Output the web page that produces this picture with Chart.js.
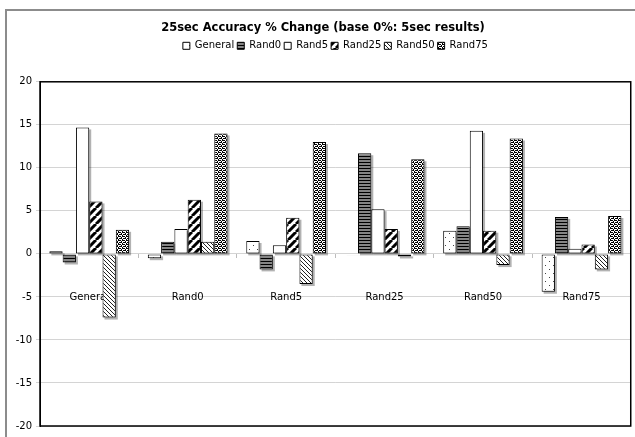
<!DOCTYPE html>
<html>
<head>
<meta charset="utf-8">
<script src="https://cdn.jsdelivr.net/npm/chart.js@4/dist/chart.umd.min.js"></script>
<style>
  html, body { margin: 0; padding: 0; background: #fff; }
  #c { display: block; }
</style>
</head>
<body>
<canvas id="c" width="635" height="437"></canvas>
<script>
// Groups along the x axis and the six compared series
const categories = ['General', 'Rand0', 'Rand5', 'Rand25', 'Rand50', 'Rand75'];
const seriesNames = ['General', 'Rand0', 'Rand5', 'Rand25', 'Rand50', 'Rand75'];

// % change of 25sec accuracy against the 5sec results, one value per group
const generalValues = [0.3, -0.5, 1.5, 0.05, 2.7, -4.4];
const rand0Values   = [-1.0, 1.4, -1.8, 11.7, 3.2, 4.3];
const rand5Values   = [14.7, 2.9, 1.0, 5.2, 14.3, 0.6];
const rand25Values  = [6.1, 6.3, 4.2, 2.9, 2.7, 1.1];
const rand50Values  = [-7.4, 1.4, -3.5, -0.3, -1.3, -1.8];
const rand75Values  = [2.8, 14.0, 13.0, 11.0, 13.4, 4.4];

const yTicks = [-20, -15, -10, -5, 0, 5, 10, 15, 20];

const FONT = 'DejaVu Sans, Verdana, sans-serif';
const canvas = document.getElementById('c');
const ctx0 = canvas.getContext('2d');

// Small repeating tiles used as monochrome fill patterns
function tile(w, h, paint) {
  const t = document.createElement('canvas');
  t.width = w; t.height = h;
  const g = t.getContext('2d');
  g.fillStyle = '#fff';
  g.fillRect(0, 0, w, h);
  paint(g);
  return ctx0.createPattern(t, 'repeat');
}
function dots(g, color, pts) {
  g.fillStyle = color;
  pts.forEach(([x, y]) => g.fillRect(x, y, 1, 1));
}

const fills = [
  // sparse dots
  tile(8, 8, g => dots(g, '#444', [[1, 1], [5, 5]])),
  // narrow horizontal lines
  tile(2, 3, g => { g.fillStyle = '#858585'; g.fillRect(0, 0, 2, 3); g.fillStyle = '#000'; g.fillRect(0, 0, 2, 1); }),
  // plain
  '#ffffff',
  // wide upward diagonal
  tile(8, 8, g => {
    g.strokeStyle = '#000'; g.lineWidth = 3; g.beginPath();
    for (const o of [-8, 0, 8]) { g.moveTo(o, 8); g.lineTo(o + 8, 0); }
    g.stroke();
  }),
  // light downward diagonal
  tile(4, 4, g => dots(g, '#222', [[0, 0], [1, 1], [2, 2], [3, 3]])),
  // confetti dots
  tile(4, 4, g => dots(g, '#000', [[0, 0], [2, 0], [3, 0], [1, 1], [0, 2], [1, 2], [3, 2], [2, 3]]))
];

const seriesValues = [generalValues, rand0Values, rand5Values, rand25Values, rand50Values, rand75Values];

// Grey outer frame, soft drop shadows behind the bars, and the plot-area box
const chartDecor = {
  id: 'chartDecor',
  beforeDraw(chart) {
    const c = chart.ctx;
    c.save();
    c.fillStyle = '#fff';
    c.fillRect(0, 0, chart.width, chart.height);
    c.strokeStyle = '#8c8c8c';
    c.lineWidth = 2;
    c.beginPath();
    c.moveTo(6, chart.height);
    c.lineTo(6, 10);
    c.lineTo(chart.width, 10);
    c.stroke();
    c.restore();
  },
  beforeDatasetsDraw(chart) {
    const c = chart.ctx;
    c.save();
    c.fillStyle = 'rgba(0,0,0,0.3)';
    chart.data.datasets.forEach((ds, i) => {
      chart.getDatasetMeta(i).data.forEach(bar => {
        const p = bar.getProps(['x', 'y', 'base', 'width'], true);
        const top = Math.min(p.y, p.base);
        const h = Math.abs(p.base - p.y);
        c.fillRect(p.x - p.width / 2 + 2, top + 2, p.width, h);
      });
    });
    c.restore();
  },
  afterDatasetsDraw(chart) {
    const a = chart.chartArea;
    const c = chart.ctx;
    c.save();
    c.strokeStyle = '#000';
    c.lineWidth = 1.5;
    c.strokeRect(a.left, a.top, a.right - a.left, a.bottom - a.top);
    c.restore();
  }
};

new Chart(canvas, {
  type: 'bar',
  data: {
    labels: categories,
    datasets: seriesNames.map((name, i) => ({
      label: name,
      data: seriesValues[i],
      backgroundColor: fills[i],
      borderColor: '#000',
      borderWidth: 1,
      borderSkipped: false,
      categoryPercentage: 0.81,
      barPercentage: 1.0,
      xAxisID: 'x',
      yAxisID: 'y'
    }))
  },
  options: {
    responsive: false,
    animation: false,
    devicePixelRatio: 1,
    layout: { padding: { left: 13, right: 2, top: 0, bottom: 11 } },
    plugins: {
      title: {
        display: true,
        text: '25sec Accuracy % Change (base 0%: 5sec results)',
        color: '#000',
        font: { family: FONT, size: 11.5, weight: 'bold' },
        padding: { top: 21, bottom: 3 }
      },
      legend: {
        display: true,
        position: 'top',
        fullSize: false,
        labels: {
          color: '#000',
          font: { family: FONT, size: 10 },
          boxWidth: 7,
          boxHeight: 7,
          padding: 3
        }
      },
      tooltip: { enabled: false }
    },
    scales: {
      y: {
        min: -20,
        max: 20,
        afterBuildTicks(s) { s.ticks = yTicks.map(v => ({ value: v })); },
        ticks: { color: '#000', font: { family: FONT, size: 10 }, padding: 4 },
        grid: { color: '#d4d4d4', tickLength: 4 },
        border: { color: '#000', width: 1 },
        afterFit(s) { s.width = 27; }
      },
      x: {
        position: { y: 0 },
        z: 1,
        grid: { offset: true, drawOnChartArea: false, tickLength: 4, color: '#bdbdbd' },
        border: { display: false },
        ticks: { color: '#000', font: { family: FONT, size: 10 }, padding: 34, maxRotation: 0 }
      },
      spacer: {
        type: 'category',
        position: 'top',
        grid: { display: false },
        border: { display: false },
        ticks: { display: false },
        afterFit(s) { s.height = 21; }
      }
    }
  },
  plugins: [chartDecor]
});
</script>
</body>
</html>
